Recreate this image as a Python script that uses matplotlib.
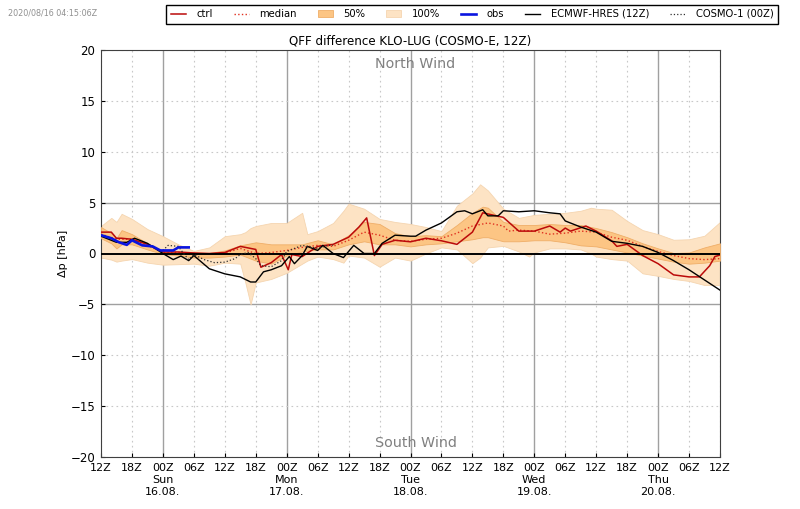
import numpy as np
import matplotlib
matplotlib.use("Agg")
import matplotlib.pyplot as plt

timestamp = "2020/08/16 04:15:06Z"
title = "QFF difference KLO-LUG (COSMO-E, 12Z)"

hours_100 = [0, 2, 3, 4, 6, 9, 12, 15, 18, 21, 24, 27, 28, 29, 30, 33, 36, 39, 40, 42, 45, 47, 48, 51, 54, 57,
             60, 63, 66, 69, 72, 73.5, 75, 78, 81, 83, 84, 87, 90, 93, 95, 96, 99, 102, 105, 108, 111, 114, 117, 120]
upper_100 = [2.7, 3.5, 3.1, 3.9, 3.4, 2.4, 1.7, 0.9, 0.25, 0.6, 1.7, 1.9, 2.1, 2.5, 2.7, 3.0, 3.0, 4.0, 1.9, 2.2, 3.0, 4.2, 4.9, 4.4, 3.4, 3.1,
             2.9, 2.6, 2.2, 4.7, 5.9, 6.8, 6.2, 4.4, 3.5, 3.7, 3.8, 3.9, 4.0, 4.2, 4.5, 4.4, 4.3, 3.2, 2.3, 1.9, 1.35, 1.4, 1.75, 3.1]
lower_100 = [-0.4, -0.6, -0.8, -0.7, -0.55, -0.9, -1.1, -1.05, -1.0, -1.2, -0.9, -1.0, -2.9, -5.0, -2.85, -2.5, -1.9, -1.0, -0.7, -0.3, -0.55, -0.9, -0.2, -0.4, -1.3, -0.4,
             -0.7, 0.0, 0.6, 0.4, -0.95, -0.4, 0.6, 0.75, 0.2, -0.3, 0.1, 0.5, 0.5, 0.4, 0.0, -0.3, -0.55, -0.7, -1.95, -2.2, -2.5, -2.7, -3.1, -3.1]

hours_50 = [0, 2, 3, 4, 6, 9, 12, 15, 18, 21, 24, 27, 30, 33, 36, 39, 42, 45, 48, 51, 54, 57,
            60, 63, 66, 69, 72, 74, 75, 78, 81, 84, 87, 90, 93, 96, 99, 102, 105, 108, 111, 114, 117, 120]
upper_50 = [2.6, 2.0, 1.5, 2.3, 1.9, 1.0, 0.2, 0.1, 0.1, 0.05, 0.3, 0.8, 1.1, 0.9, 0.9, 0.9, 1.3, 0.9, 1.8, 3.1, 2.9, 2.0,
            1.7, 1.8, 1.7, 2.8, 4.0, 4.6, 4.5, 3.1, 2.8, 2.8, 2.9, 2.8, 2.8, 2.5, 2.1, 1.6, 1.0, 0.5, 0.05, 0.1, 0.6, 1.0]
lower_50 = [1.5, 1.0, 0.5, 0.9, 0.9, 0.4, -0.05, -0.2, -0.4, -0.4, -0.3, -0.1, -0.7, -1.0, -0.2, 0.2, 0.4, 0.4, 0.9, 1.2, 0.9, 0.9,
            0.7, 0.9, 1.0, 1.2, 1.4, 1.6, 1.6, 1.2, 1.2, 1.3, 1.3, 1.1, 0.8, 0.7, 0.4, 0.1, -0.2, -0.5, -0.8, -1.0, -0.9, -0.7]

hours_median = [0, 3, 6, 9, 12, 15, 18, 21, 24, 27, 30, 33, 36, 39, 42, 45, 48, 51, 54, 57,
                60, 63, 66, 69, 72, 75, 78, 79, 81, 84, 87, 90, 93, 96, 99, 102, 105, 108, 111, 114, 117, 120]
median = [1.9, 1.4, 1.4, 0.8, 0.1, 0.1, 0.0, -0.05, 0.05, 0.5, 0.0, 0.1, 0.3, 0.6, 0.8, 0.7, 1.3, 2.1, 1.8, 1.3,
          1.2, 1.4, 1.5, 2.0, 2.7, 3.0, 2.7, 2.2, 2.3, 2.2, 1.9, 2.0, 2.2, 2.1, 1.6, 1.3, 0.7, 0.2, -0.2, -0.5, -0.6, -0.5]

hours_ctrl = [0, 2, 3, 4, 6, 9, 12, 15, 18, 21, 24, 27, 30, 31, 33, 35, 36.3, 37, 39, 42, 45, 48, 50, 51.5, 53, 54.5, 57,
              60, 63, 66, 69, 72, 74, 78, 81, 84, 87, 89, 90, 91, 94, 96, 99, 100, 102, 105, 108, 111, 114, 116, 118, 119, 120]
ctrl = [2.1, 2.1, 1.5, 1.5, 1.4, 0.9, 0.15, 0.15, 0.05, 0.0, 0.1, 0.7, 0.4, -1.35, -0.9, -0.1, -1.6, -0.1, -0.3, 0.7, 0.9, 1.6, 2.6, 3.5, -0.2, 0.9, 1.3,
        1.15, 1.5, 1.25, 0.9, 2.1, 4.0, 3.55, 2.2, 2.2, 2.7, 2.1, 2.5, 2.2, 2.7, 2.2, 1.25, 0.7, 0.9, -0.2, -1.0, -2.1, -2.3, -2.3, -1.2, -0.3, -0.15]

hours_obs = [0, 2, 3.5, 5, 6, 8, 10, 11.5, 12, 14, 15, 17]
obs = [1.8, 1.5, 1.1, 0.85, 1.3, 0.8, 0.7, 0.3, 0.3, 0.3, 0.6, 0.6]

hours_hres = [0, 3, 5, 6.5, 9, 12, 14, 15.5, 17, 18, 21, 24, 27, 29, 30, 31.5, 33, 35, 36.5, 37.5, 39, 40, 42, 43, 45, 47, 49, 51, 53, 54.5, 57,
              60, 61, 63, 66, 69, 70.5, 72, 74, 75, 77, 78, 81, 84, 87, 89, 90, 93, 96, 99, 102, 105, 108, 111, 114, 117, 120]
hres = [1.7, 1.1, 1.1, 1.5, 1.0, 0.0, -0.6, -0.25, -0.7, -0.2, -1.5, -2.0, -2.3, -2.8, -2.8, -1.8, -1.6, -1.2, -0.3, -1.0, -0.2, 0.7, 0.3, 0.8, 0.0, -0.4, 0.8, 0.0, 0.0, 1.0, 1.8,
        1.7, 1.7, 2.3, 3.0, 4.1, 4.2, 3.9, 4.3, 3.7, 3.7, 4.2, 4.1, 4.2, 4.0, 3.9, 3.2, 2.6, 2.1, 1.2, 1.0, 0.7, 0.1, -0.7, -1.6, -2.6, -3.6]

hours_c1 = [12, 13, 15, 16, 17, 18, 20, 22, 24, 26, 27, 28.5, 30, 31, 33, 35, 36, 37, 39, 40, 42, 44, 45]
c1 = [0.3, 0.8, 0.7, 0.0, -0.6, -0.1, -0.6, -0.9, -0.85, -0.5, -0.1, 0.1, -0.5, -1.2, -1.3, -0.7, 0.2, 0.4, 0.8, 0.7, 0.5, 0.8, 0.8]

x_ticks = list(range(0, 121, 6))
x_labels = ["12Z", "18Z", "00Z\nSun\n16.08.", "06Z", "12Z", "18Z", "00Z\nMon\n17.08.", "06Z", "12Z", "18Z",
            "00Z\nTue\n18.08.", "06Z", "12Z", "18Z", "00Z\nWed\n19.08.", "06Z", "12Z", "18Z", "00Z\nThu\n20.08.", "06Z", "12Z"]
y_ticks = list(range(-20, 21, 5))

fig = plt.figure(figsize=(8, 5.09), dpi=100)
ax = fig.add_axes([101 / 800, 1 - 457 / 509, 619 / 800, 407 / 509])

# grid first, 00Z and +-5 lines are the solid ones
for h in x_ticks:
    if (h - 12) % 24 == 0:
        ax.axvline(h, color="#a0a0a0", lw=1.0, zorder=1)
    else:
        ax.axvline(h, color="#c8c8c8", lw=0.8, ls=(0, (1.5, 3)), zorder=1)
for v in y_ticks:
    if abs(v) == 5:
        ax.axhline(v, color="#a0a0a0", lw=1.0, zorder=1)
    elif v != 0:
        ax.axhline(v, color="#c8c8c8", lw=0.8, ls=(0, (1.5, 3)), zorder=1)
ax.axhline(0, color="black", lw=1.4, zorder=6)

ax.fill_between(hours_100, lower_100, upper_100, color="#fde3c4", ec="#f5d5b0", lw=0.6, zorder=2, label="100%")
ax.fill_between(hours_50, lower_50, upper_50, color="#fcc584", ec="#efae68", lw=0.6, zorder=3, label="50%")
ax.plot(hours_median, median, color="#e03020", lw=1.0, ls=":", zorder=4, label="median")
ax.plot(hours_ctrl, ctrl, color="#bb0a0a", lw=1.1, zorder=5, label="ctrl")
ax.plot(hours_hres, hres, color="black", lw=1.0, zorder=7, label="ECMWF-HRES (12Z)")
ax.plot(hours_c1, c1, color="#303030", lw=0.9, ls=":", zorder=7, label="COSMO-1 (00Z)")
ax.plot(hours_obs, obs, color="#0a14e0", lw=1.9, zorder=8, label="obs")

ax.set_xlim(0, 120)
ax.set_ylim(-20, 20)
ax.set_xticks(x_ticks)
ax.set_xticklabels(x_labels, fontsize=8, linespacing=1.25)
ax.set_yticks(y_ticks)
ax.tick_params(axis="y", labelsize=8.5, direction="in", length=3, pad=4)
ax.tick_params(axis="x", direction="in", length=3, pad=4)
for spine in ax.spines.values():
    spine.set_color("#404040")
ax.set_ylabel("Δp [hPa]", fontsize=8, labelpad=2)
ax.set_title(title, fontsize=8.6, pad=4)

ax.text(0.508, 0.966, "North Wind", transform=ax.transAxes, color="#808080", fontsize=10.3, ha="center", va="center")
ax.text(0.508, 0.034, "South Wind", transform=ax.transAxes, color="#808080", fontsize=10.3, ha="center", va="center")

fig.text(8 / 800, 1 - 13 / 509, timestamp, fontsize=5.8, color="#909090", va="center")

handles, labels = ax.get_legend_handles_labels()
order = ["ctrl", "median", "50%", "100%", "obs", "ECMWF-HRES (12Z)", "COSMO-1 (00Z)"]
handles = [handles[labels.index(n)] for n in order]
fig.legend(handles, order, ncol=7, fontsize=7.2, loc="center", bbox_to_anchor=(472 / 800, 1 - 14 / 509),
           fancybox=False, edgecolor="black", framealpha=1, handlelength=1.5, columnspacing=2.05,
           handletextpad=1.1, borderpad=0.45)

fig.savefig("out.png", dpi=100)
